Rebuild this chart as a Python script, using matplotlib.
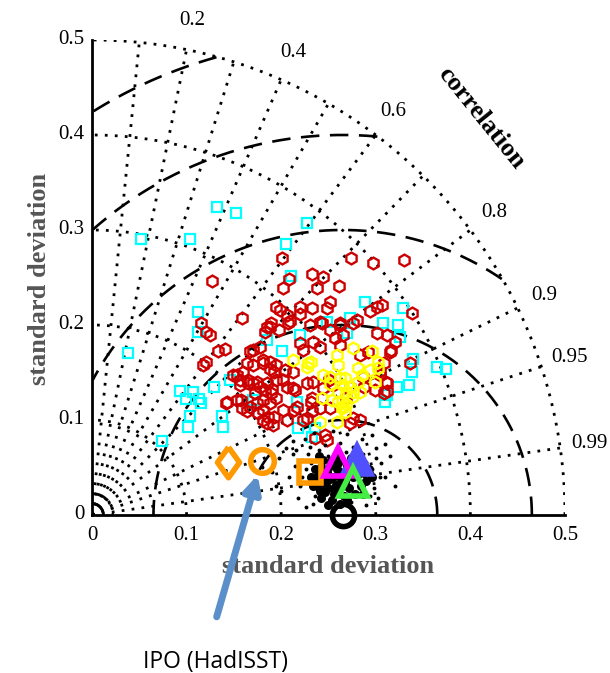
import numpy as np
import matplotlib
matplotlib.use('Agg')
import matplotlib.pyplot as plt

ref_std = 0.265
corr_lines = [0.1, 0.2, 0.3, 0.4, 0.5, 0.6, 0.7, 0.8, 0.9, 0.95, 0.99]
corr_labels = [0.2, 0.4, 0.6, 0.8, 0.9, 0.95, 0.99]
std_circles = [0.1, 0.2, 0.3, 0.4, 0.5]
rms_circles = [0.1, 0.2, 0.3, 0.4, 0.5]
ticks = [0, 0.1, 0.2, 0.3, 0.4, 0.5]
tick_labels = ['0', '0.1', '0.2', '0.3', '0.4', '0.5']

cyan_pts = [
    (0.132, 0.324), (0.152, 0.318), (0.052, 0.291), (0.104, 0.291), (0.205, 0.285),
    (0.227, 0.307), (0.210, 0.252), (0.038, 0.171), (0.074, 0.078), (0.112, 0.214),
    (0.112, 0.193), (0.093, 0.130), (0.099, 0.122), (0.107, 0.129), (0.113, 0.122),
    (0.115, 0.118), (0.104, 0.104), (0.102, 0.093), (0.129, 0.135), (0.137, 0.104),
    (0.139, 0.093), (0.185, 0.184), (0.201, 0.173), (0.146, 0.142), (0.218, 0.092),
    (0.220, 0.189), (0.248, 0.203), (0.308, 0.202), (0.323, 0.200), (0.339, 0.164),
    (0.338, 0.151), (0.365, 0.156), (0.374, 0.154), (0.335, 0.137), (0.322, 0.135),
    (0.312, 0.126), (0.310, 0.119), (0.217, 0.119), (0.233, 0.082), (0.170, 0.121),
    (0.289, 0.224), (0.329, 0.218), (0.273, 0.207), (0.326, 0.187), (0.270, 0.192),
    (0.236, 0.092),
]

red_pts = [
    (0.127, 0.246), (0.159, 0.207), (0.115, 0.202), (0.201, 0.271), (0.274, 0.271),
    (0.297, 0.265), (0.330, 0.268), (0.233, 0.254), (0.244, 0.251), (0.208, 0.248),
    (0.202, 0.239), (0.238, 0.239), (0.261, 0.241), (0.252, 0.224), (0.248, 0.218),
    (0.233, 0.218), (0.220, 0.219), (0.195, 0.219), (0.199, 0.216), (0.206, 0.211),
    (0.220, 0.212), (0.307, 0.221), (0.301, 0.219), (0.294, 0.215), (0.338, 0.213),
    (0.280, 0.205), (0.262, 0.202), (0.241, 0.203), (0.121, 0.193), (0.125, 0.189),
    (0.133, 0.173), (0.141, 0.175), (0.117, 0.158), (0.120, 0.161), (0.167, 0.173),
    (0.153, 0.147), (0.160, 0.151), (0.165, 0.142), (0.156, 0.137), (0.153, 0.121),
    (0.159, 0.113), (0.142, 0.118), (0.167, 0.114), (0.172, 0.128), (0.209, 0.204),
    (0.185, 0.198), (0.189, 0.202), (0.198, 0.195), (0.170, 0.174), (0.178, 0.177),
    (0.164, 0.160), (0.170, 0.158), (0.181, 0.163), (0.188, 0.161), (0.195, 0.158),
    (0.204, 0.153), (0.213, 0.150), (0.149, 0.147), (0.156, 0.142), (0.165, 0.139),
    (0.174, 0.140), (0.185, 0.139), (0.195, 0.142), (0.206, 0.135), (0.215, 0.132),
    (0.143, 0.119), (0.157, 0.121), (0.164, 0.109), (0.174, 0.118), (0.181, 0.111),
    (0.186, 0.103), (0.191, 0.095), (0.185, 0.097), (0.181, 0.121), (0.189, 0.128),
    (0.202, 0.111), (0.217, 0.114), (0.183, 0.193), (0.188, 0.198), (0.207, 0.202),
    (0.230, 0.200), (0.243, 0.202), (0.252, 0.195), (0.262, 0.200), (0.265, 0.189),
    (0.276, 0.202), (0.220, 0.181), (0.223, 0.174), (0.234, 0.182), (0.241, 0.177),
    (0.257, 0.186), (0.262, 0.179), (0.301, 0.192), (0.312, 0.189), (0.320, 0.182),
    (0.315, 0.172), (0.292, 0.172), (0.283, 0.168), (0.181, 0.160), (0.188, 0.154),
    (0.192, 0.150), (0.202, 0.142), (0.212, 0.134), (0.227, 0.139), (0.234, 0.140),
    (0.244, 0.134), (0.255, 0.137), (0.251, 0.142), (0.273, 0.135), (0.286, 0.145),
    (0.288, 0.135), (0.304, 0.152), (0.312, 0.139), (0.312, 0.130), (0.336, 0.160),
    (0.170, 0.139), (0.178, 0.135), (0.183, 0.132), (0.190, 0.133), (0.195, 0.123),
    (0.188, 0.118), (0.181, 0.100), (0.192, 0.103), (0.176, 0.107), (0.206, 0.100),
    (0.214, 0.110), (0.223, 0.100), (0.227, 0.102), (0.232, 0.119), (0.241, 0.113),
    (0.233, 0.109), (0.252, 0.113), (0.269, 0.123), (0.276, 0.102), (0.283, 0.100),
    (0.273, 0.097), (0.236, 0.081), (0.246, 0.084), (0.248, 0.079), (0.316, 0.174),
    (0.309, 0.160), (0.304, 0.147), (0.311, 0.140), (0.299, 0.132), (0.309, 0.128),
    (0.233, 0.123),
]

yellow_pts = [
    (0.212, 0.163), (0.276, 0.176), (0.296, 0.173), (0.302, 0.161), (0.259, 0.168),
    (0.260, 0.158), (0.228, 0.160), (0.232, 0.161), (0.227, 0.156), (0.281, 0.155),
    (0.294, 0.153), (0.285, 0.147), (0.281, 0.140), (0.244, 0.147), (0.252, 0.145),
    (0.262, 0.144), (0.267, 0.144), (0.299, 0.140), (0.265, 0.137), (0.273, 0.135),
    (0.276, 0.129), (0.283, 0.129), (0.269, 0.129), (0.260, 0.129), (0.243, 0.123),
    (0.254, 0.121), (0.260, 0.119), (0.265, 0.115), (0.269, 0.117), (0.275, 0.124),
    (0.267, 0.108), (0.264, 0.113), (0.241, 0.098), (0.259, 0.098), (0.302, 0.155),
    (0.252, 0.138),
]

# nucleo denso de la nube negra
cloud_core = [
    (0.238, 0.030), (0.244, 0.036), (0.250, 0.028), (0.255, 0.040), (0.248, 0.045),
    (0.242, 0.050), (0.258, 0.032), (0.262, 0.045), (0.252, 0.052), (0.238, 0.040),
    (0.246, 0.024), (0.256, 0.022), (0.264, 0.030), (0.268, 0.040), (0.260, 0.055),
    (0.244, 0.058), (0.236, 0.048), (0.270, 0.052), (0.272, 0.028), (0.266, 0.020),
    (0.254, 0.016), (0.242, 0.018), (0.234, 0.030), (0.276, 0.040), (0.280, 0.048),
    (0.284, 0.030), (0.288, 0.044), (0.232, 0.040), (0.278, 0.022), (0.262, 0.012),
    (0.250, 0.010), (0.252, 0.038), (0.259, 0.048), (0.244, 0.042), (0.267, 0.035),
    (0.253, 0.057), (0.274, 0.060), (0.284, 0.055), (0.290, 0.036), (0.240, 0.062),
    (0.247, 0.031), (0.241, 0.025), (0.257, 0.027), (0.263, 0.038), (0.249, 0.040),
    (0.293, 0.048), (0.296, 0.040), (0.286, 0.022), (0.270, 0.016), (0.258, 0.061),
]

cloud_pts = [
    (0.250, 0.062), (0.232, 0.055), (0.258, 0.068), (0.268, 0.066), (0.290, 0.056),
    (0.292, 0.036), (0.282, 0.022), (0.274, 0.014), (0.248, 0.010), (0.236, 0.020),
    (0.226, 0.048), (0.228, 0.064), (0.240, 0.068), (0.246, 0.074), (0.262, 0.076),
    (0.296, 0.048), (0.298, 0.028), (0.286, 0.064), (0.276, 0.072), (0.228, 0.034),
    (0.205, 0.070), (0.212, 0.078), (0.198, 0.060), (0.215, 0.052), (0.208, 0.040),
    (0.220, 0.030), (0.218, 0.018), (0.200, 0.025), (0.190, 0.045), (0.225, 0.080),
    (0.235, 0.086), (0.270, 0.085), (0.300, 0.070), (0.305, 0.055), (0.310, 0.040),
    (0.302, 0.018), (0.290, 0.010), (0.315, 0.062), (0.320, 0.030), (0.226, 0.008),
    (0.212, 0.064), (0.285, 0.080), (0.255, 0.088), (0.180, 0.050), (0.195, 0.030),
    (0.310, 0.075), (0.296, 0.084), (0.222, 0.058), (0.230, 0.072), (0.304, 0.040),
    (0.222, 0.040), (0.300, 0.060), (0.294, 0.020), (0.234, 0.012), (0.216, 0.068),
]

# marcador de rombo ancho (el 'd' de matplotlib es demasiado estrecho)
wide_diamond = [(0, 1), (0.72, 0), (0, -1), (-0.72, 0), (0, 1)]

# marcadores grandes: (x, y, marcador, color, relleno, tamano)
big_markers = [
    (0.144, 0.056, wide_diamond, '#ff9900', 'none', 22),
    (0.180, 0.057, 'o', '#ff9900', 'none', 17),
    (0.230, 0.045, 's', '#ff9900', 'none', 16),
    (0.280, 0.058, '^', '#5050ff', '#5050ff', 20),
    (0.260, 0.056, '^', '#ff00ff', 'none', 20),
    (0.276, 0.035, '^', '#44ee44', 'none', 20),
    (0.265, 0.000, 'o', 'black', 'none', 16),
]

fig = plt.figure(figsize=(6.1, 6.73), dpi=100)
ax = fig.add_axes([0.1508, 0.2348, 0.7754, 0.7058])
ax.set_xlim(0, 0.5)
ax.set_ylim(0, 0.5)
ax.axis('off')

dot = (0, (1, 2.6))
th = np.linspace(0, np.pi / 2, 300)

# circulos de desviacion estandar (punteados)
for r in std_circles:
    ax.plot(r * np.cos(th), r * np.sin(th), color='black', lw=2.0, ls=dot, zorder=1)
ax.plot(0.022 * np.cos(th), 0.022 * np.sin(th), color='black', lw=1.6, ls=(0, (1, 1.5)), zorder=1)
ax.plot(0.012 * np.cos(th), 0.012 * np.sin(th), color='black', lw=1.8, zorder=1)

# lineas radiales de correlacion
for c in corr_lines:
    a = np.arccos(c)
    ax.plot([0, 0.5 * np.cos(a)], [0, 0.5 * np.sin(a)], color='black', lw=2.0, ls=dot, zorder=1)

for c in corr_labels:
    a = np.arccos(c)
    ax.text(0.531 * np.cos(a), 0.531 * np.sin(a), str(c), ha='center', va='center',
            fontsize=15, family='Liberation Serif')

# circulos de error RMS (discontinuos) centrados en la referencia
phi = np.linspace(0, np.pi, 600)
for r in rms_circles:
    x = ref_std + r * np.cos(phi)
    y = r * np.sin(phi)
    ok = (x >= 0) & (np.hypot(x, y) <= 0.5)
    x = np.where(ok, x, np.nan)
    y = np.where(ok, y, np.nan)
    ax.plot(x, y, color='black', lw=1.9, ls=(0, (7, 4)), zorder=1)

# ejes
ax.plot([0, 0], [0, 0.5], color='black', lw=2, clip_on=False, zorder=2)
ax.plot([0, 0.5], [0, 0], color='black', lw=2, clip_on=False, zorder=2)
for t, lab in zip(ticks, tick_labels):
    ax.text(t, -0.012, lab, ha='center', va='top', fontsize=15, family='Liberation Serif')
    ax.text(-0.008, t, lab, ha='right', va='center', fontsize=15, family='Liberation Serif')

ax.text(0.25, -0.054, 'standard deviation', ha='center', va='center', fontsize=19,
        fontweight='bold', color='#555555', family='Liberation Serif')
ax.text(-0.055, 0.248, 'standard deviation', ha='center', va='center', fontsize=19,
        fontweight='bold', color='#555555', family='Liberation Serif', rotation=90)
ax.text(0.411, 0.418, 'correlation', ha='center', va='center', fontsize=19,
        fontweight='bold', family='Liberation Serif', rotation=-51)

# nubes de puntos
cx, cy = zip(*cyan_pts)
ax.plot(cx, cy, 's', color='#00ffff', mfc='none', ms=6.5, mew=1.6, zorder=3)
rx, ry = zip(*red_pts)
ax.plot(rx, ry, 'h', color='#cc0000', mfc='none', ms=8.5, mew=1.7, zorder=4)
yx, yy = zip(*yellow_pts)
ax.plot(yx, yy, 'h', color='#ffff00', mfc='none', ms=8.5, mew=1.7, zorder=5)
kx, ky = zip(*cloud_core)
ax.plot(kx, ky, 'o', color='black', ms=6.5, mew=0, zorder=5)
kx, ky = zip(*cloud_pts)
ax.plot(kx, ky, 'o', color='black', ms=2.8, mew=0, zorder=5)

for x, y, m, col, fc, s in big_markers:
    ax.plot(x, y, marker=m, color=col, mfc=fc, ms=s, mew=4, ls='none', clip_on=False, zorder=6)

# anotacion IPO
ax.annotate('', xy=(0.176, 0.045), xytext=(0.131, -0.110), xycoords='data',
            arrowprops=dict(arrowstyle='-|>,head_width=0.5,head_length=1.0',
                            color='#5b8fc9', lw=5), annotation_clip=False, zorder=7)
ax.text(0.131, -0.155, 'IPO (HadISST)', ha='center', va='center', fontsize=16.5,
        family='Open Sans')

fig.savefig('out.png', dpi=100)
